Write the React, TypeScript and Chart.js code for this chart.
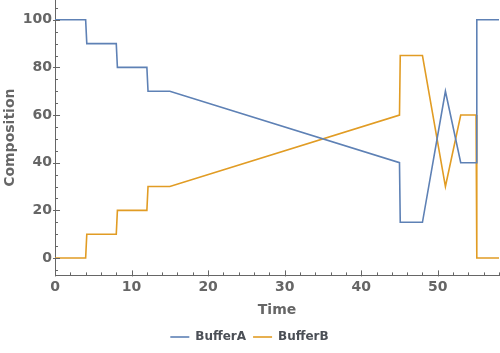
import React, { useEffect, useRef } from "react";
import { Chart, registerables } from "chart.js";

Chart.register(...registerables);

const timeA = [0, 4, 4.15, 8, 8.15, 12, 12.15, 15, 45, 45.1, 48, 51, 53, 55, 55.1, 58];
const bufferA = [100, 100, 90, 90, 80, 80, 70, 70, 40, 15, 15, 70, 40, 40, 100, 100];
const timeB = [0, 4, 4.15, 8, 8.15, 12, 12.15, 15, 45, 45.1, 48, 51, 53, 55, 55.1, 58];
const bufferB = [0, 0, 10, 10, 20, 20, 30, 30, 60, 85, 85, 30, 60, 60, 0, 0];
const seriesNames = ["BufferA", "BufferB"];
const xTicks = [0, 10, 20, 30, 40, 50];
const yTicks = [0, 20, 40, 60, 80, 100];
const xTitle = "Time";
const yTitle = "Composition";

const FONT = "'DejaVu Sans', sans-serif";
const TICK_COLOR = "#666666";
const AXIS_COLOR = "#666666";
const COLORS = ["#5e81b5", "#e19c24"];
const LEGEND_COLORS = ["rgba(94,129,181,0.8)", "rgba(225,156,36,0.8)"];

const minorTicks = {
  id: "minorTicks",
  afterDraw(chart: any) {
    const { ctx, chartArea, scales } = chart;
    const x = scales.x;
    const y = scales.y;
    ctx.save();
    ctx.strokeStyle = AXIS_COLOR;
    ctx.lineWidth = 1;
    for (let v = 0; v <= 58; v += 2) {
      const px = Math.round(x.getPixelForValue(v)) + 0.5;
      const major = v % 10 === 0;
      const len = major ? 5 : 3;
      ctx.beginPath();
      ctx.moveTo(px, chartArea.bottom + (major ? 1 : 0));
      ctx.lineTo(px, chartArea.bottom - len);
      ctx.stroke();
    }
    for (let v = -5; v <= 105; v += 5) {
      const py = Math.round(y.getPixelForValue(v)) + 0.5;
      const major = v % 20 === 0;
      const len = major ? 5 : 3;
      ctx.beginPath();
      ctx.moveTo(chartArea.left - (major ? 2 : 0), py);
      ctx.lineTo(chartArea.left + len, py);
      ctx.stroke();
    }
    ctx.restore();
  },
};

function zeroPad(scale: any) {
  scale.paddingTop = 0;
  scale.paddingBottom = 0;
  scale.paddingLeft = 0;
  scale.paddingRight = 0;
}

export default function App() {
  const ref = useRef<HTMLCanvasElement>(null);
  useEffect(() => {
    if (!ref.current) return;
    const chart = new Chart(ref.current, {
      type: "line",
      data: {
        datasets: [
          {
            label: seriesNames[0],
            data: timeA.map((t, i) => ({ x: t, y: bufferA[i] })),
            borderColor: COLORS[0],
            borderWidth: 1.6,
            pointRadius: 0,
            tension: 0,
          },
          {
            label: seriesNames[1],
            data: timeB.map((t, i) => ({ x: t, y: bufferB[i] })),
            borderColor: COLORS[1],
            borderWidth: 1.6,
            pointRadius: 0,
            tension: 0,
          },
        ],
      },
      options: {
        animation: false,
        responsive: false,
        maintainAspectRatio: false,
        layout: { padding: { left: 0, right: 1, top: 0, bottom: 0 } },
        plugins: {
          tooltip: { enabled: false },
          legend: {
            position: "bottom",
            labels: {
              usePointStyle: true,
              pointStyle: "line",
              pointStyleWidth: 19,
              padding: 7,
              color: "#4b4f56",
              font: { family: FONT, weight: "bold", size: 12 },
              generateLabels: (ch: any) =>
                ch.data.datasets.map((ds: any, i: number) => ({
                  text: ds.label,
                  strokeStyle: LEGEND_COLORS[i],
                  fillStyle: LEGEND_COLORS[i],
                  lineWidth: 2,
                  pointStyle: "line",
                  datasetIndex: i,
                  hidden: false,
                  fontColor: "#4b4f56",
                })),
            },
          },
        },
        scales: {
          x: {
            type: "linear",
            min: 0,
            max: 58,
            grid: { display: false, drawTicks: false },
            border: { display: true, color: AXIS_COLOR, width: 1 },
            afterBuildTicks(scale: any) {
              scale.ticks = xTicks.map((v) => ({ value: v }));
            },
            afterFit: zeroPad,
            ticks: {
              color: TICK_COLOR,
              padding: 4,
              maxRotation: 0,
              font: { family: FONT, weight: "bold", size: 14 },
            },
            title: {
              display: true,
              text: xTitle,
              color: TICK_COLOR,
              padding: { top: 2, bottom: 5 },
              font: { family: FONT, weight: "bold", size: 14 },
            },
          },
          y: {
            type: "linear",
            min: -7.3,
            max: 108.3,
            grid: { display: false, drawTicks: false },
            border: { display: true, color: AXIS_COLOR, width: 1 },
            afterBuildTicks(scale: any) {
              scale.ticks = yTicks.map((v) => ({ value: v }));
            },
            afterFit: zeroPad,
            ticks: {
              color: TICK_COLOR,
              padding: 3,
              font: { family: FONT, weight: "bold", size: 14 },
            },
            title: {
              display: true,
              text: yTitle,
              color: TICK_COLOR,
              padding: { top: 2, bottom: 1 },
              font: { family: FONT, weight: "bold", size: 14 },
            },
          },
        },
      },
      plugins: [minorTicks],
    });
    return () => chart.destroy();
  }, []);
  return (
    <div style={{ position: "absolute", left: 0, top: 0, width: 500, height: 353 }}>
      <canvas ref={ref} width={500} height={353} style={{ display: "block" }} />
    </div>
  );
}
